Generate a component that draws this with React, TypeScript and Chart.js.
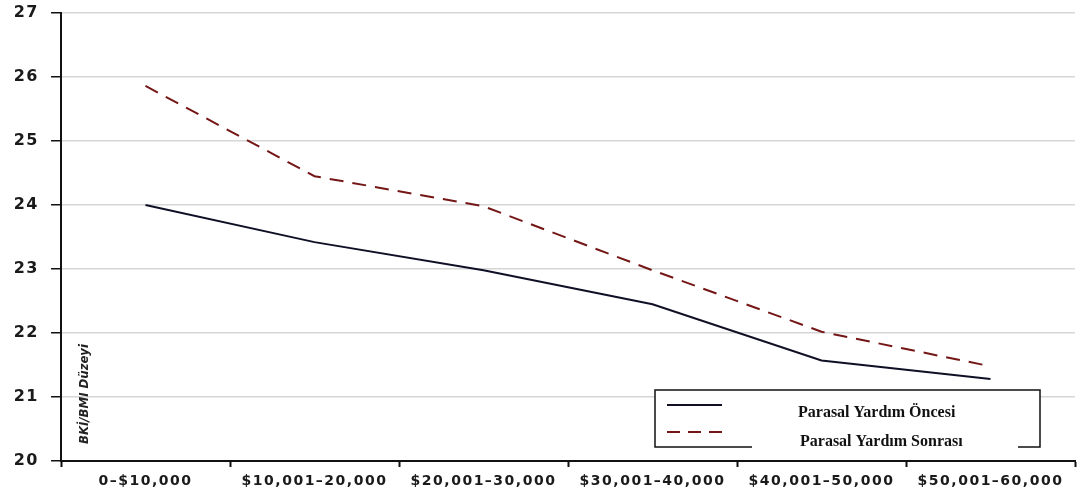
import React, { useEffect, useRef } from "react";
import { Chart, registerables } from "chart.js";

Chart.register(...registerables);

const categories = ["0–$10,000", "$10,001–20,000", "$20,001–30,000", "$30,001–40,000", "$40,001–50,000", "$50,001–60,000"];
const beforeValues = [24.0, 23.42, 22.98, 22.45, 21.57, 21.28];
const afterValues = [25.86, 24.45, 23.98, 22.98, 22.02, 21.48];
const beforeLabel = "Parasal Yardım Öncesi";
const afterLabel = "Parasal Yardım Sonrası";
const yTitle = "BKİ/BMI Düzeyi";
const yMin = 20;
const yMax = 27;

const BEFORE_COLOR = "#0f0f26";
const AFTER_COLOR = "#741616";

const spacingPlugin = {
  id: "spacing",
  beforeDraw(chart: any) {
    (chart.ctx as any).letterSpacing = "1.5px";
  },
  beforeDatasetsDraw(chart: any) {
    (chart.ctx as any).letterSpacing = "0px";
  },
};

const overlayPlugin = {
  id: "overlay",
  afterDraw(chart: any) {
    const ctx = chart.ctx;
    ctx.save();
    (ctx as any).letterSpacing = "0px";
    // y title
    ctx.save();
    ctx.translate(85, 394);
    ctx.rotate(-Math.PI / 2);
    ctx.font = "italic bold 13px 'Liberation Sans Narrow', 'DejaVu Sans Condensed', sans-serif";
    const w = ctx.measureText(yTitle).width;
    const target = 100;
    ctx.scale(target / w, 1);
    ctx.fillStyle = "#222";
    ctx.textAlign = "center";
    ctx.textBaseline = "middle";
    ctx.fillText(yTitle, 0, 0);
    ctx.restore();

    // legend box
    const bx = 655, by = 390, bw = 385, bh = 57;
    ctx.fillStyle = "#ffffff";
    ctx.fillRect(bx, by, bw, bh);
    ctx.strokeStyle = "#111";
    ctx.lineWidth = 1.5;
    ctx.beginPath();
    ctx.moveTo(bx + 97, by + bh);
    ctx.lineTo(bx, by + bh);
    ctx.lineTo(bx, by);
    ctx.lineTo(bx + bw, by);
    ctx.lineTo(bx + bw, by + bh);
    ctx.lineTo(bx + bw - 22, by + bh);
    ctx.stroke();

    ctx.lineWidth = 2;
    ctx.strokeStyle = BEFORE_COLOR;
    ctx.setLineDash([]);
    ctx.beginPath();
    ctx.moveTo(667, 405);
    ctx.lineTo(722, 405);
    ctx.stroke();

    ctx.strokeStyle = AFTER_COLOR;
    ctx.setLineDash([13, 8]);
    ctx.beginPath();
    ctx.moveTo(667, 432);
    ctx.lineTo(722, 432);
    ctx.stroke();
    ctx.setLineDash([]);

    ctx.fillStyle = "#111";
    ctx.font = "bold 16px 'Liberation Serif', serif";
    ctx.textAlign = "left";
    ctx.textBaseline = "middle";
    ctx.fillText(beforeLabel, 798, 413);
    ctx.fillText(afterLabel, 800, 442);
    ctx.restore();
  },
};

export default function App() {
  const ref = useRef<HTMLCanvasElement | null>(null);
  useEffect(() => {
    if (!ref.current) return;
    const chart = new Chart(ref.current, {
      type: "line",
      data: {
        labels: categories,
        datasets: [
          {
            label: beforeLabel,
            data: beforeValues,
            borderColor: BEFORE_COLOR,
            borderWidth: 2,
            pointRadius: 0,
            tension: 0,
            fill: false,
          },
          {
            label: afterLabel,
            data: afterValues,
            borderColor: AFTER_COLOR,
            borderWidth: 2,
            borderDash: [14, 9],
            pointRadius: 0,
            tension: 0,
            fill: false,
          },
        ],
      },
      options: {
        animation: false,
        responsive: true,
        maintainAspectRatio: false,
        layout: { padding: { left: 0, right: 8, top: 13, bottom: 0 } },
        plugins: { legend: { display: false }, tooltip: { enabled: false } },
        scales: {
          x: {
            offset: true,
            grid: {
              display: true,
              offset: true,
              drawOnChartArea: false,
              drawTicks: true,
              tickLength: 6,
              tickColor: "#111",
              tickWidth: 2,
            },
            border: { display: true, color: "#111", width: 2 },
            ticks: {
              color: "#1a1a1a",
              font: { family: "'DejaVu Sans', sans-serif", size: 14, weight: "bold" },
              padding: 6,
              maxRotation: 0,
              autoSkip: false,
            },
            afterFit(scale: any) {
              scale.height = 35;
            },
          },
          y: {
            min: yMin,
            max: yMax,
            ticks: {
              stepSize: 1,
              color: "#1a1a1a",
              font: { family: "'DejaVu Sans', sans-serif", size: 16, weight: "bold" },
              padding: 12,
            },
            grid: {
              color: "#d6d6d6",
              lineWidth: 1.5,
              tickColor: "#111",
              tickLength: 10,
              tickWidth: 1.5,
            },
            border: { display: true, color: "#111", width: 2 },
            afterFit(scale: any) {
              scale.width = 61;
              scale.paddingTop = 0;
              scale.paddingBottom = 0;
            },
          },
        },
      },
      plugins: [spacingPlugin, overlayPlugin],
    });
    return () => chart.destroy();
  }, []);
  return (
    <div style={{ position: "absolute", left: 0, top: 0, width: 1083, height: 496 }}>
      <canvas ref={ref} />
    </div>
  );
}
